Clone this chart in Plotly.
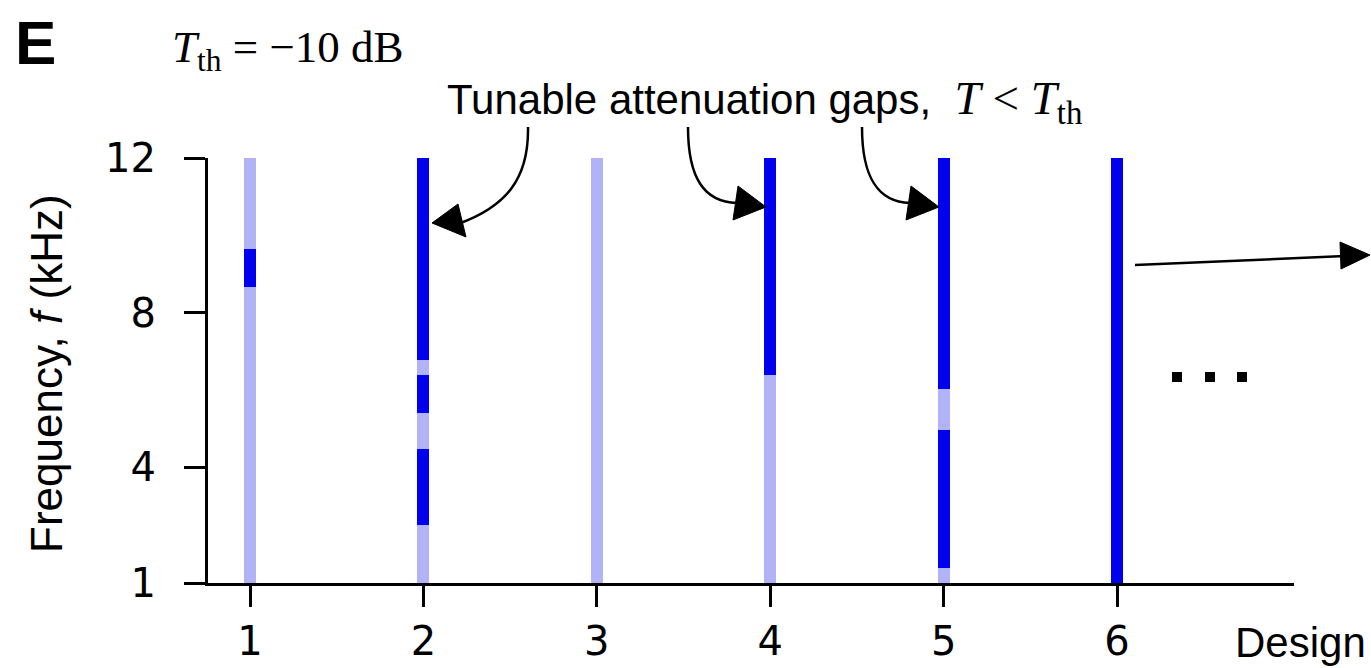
import plotly.graph_objects as go

# ---------------- data ----------------
designs = [1, 2, 3, 4, 5, 6]
# frequency boundaries (kHz) of the segments along each design's bar
boundaries = {
    1: [1, 8.67, 9.65, 12],
    2: [1, 2.5, 4.47, 5.4, 6.39, 6.78, 12],
    3: [1, 12],
    4: [1, 6.39, 12],
    5: [1, 1.39, 4.96, 6.03, 12],
    6: [1, 12],
}
# 1 = attenuation gap (T < T_th), 0 = pass
gap_flags = {
    1: [0, 1, 0],
    2: [0, 1, 0, 1, 0, 1],
    3: [0],
    4: [0, 1],
    5: [0, 1, 0, 1],
    6: [1],
}
x_ticks = [1, 2, 3, 4, 5, 6]
y_ticks = [1, 4, 8, 12]

LIGHT = "rgb(178,178,247)"
DARK = "rgb(0,0,238)"

# ---------------- layout geometry ----------------
W, H = 1371, 668
L, R, T, B = 208, 1294, 158, 583


def px(x, y):
    return (x - L) / (R - L), (B - y) / (B - T)


fig = go.Figure()
for flag, color in [(0, LIGHT), (1, DARK)]:
    xs, bases, lens = [], [], []
    for d in designs:
        bnd = boundaries[d]
        for i, f in enumerate(gap_flags[d]):
            if f == flag:
                xs.append(d)
                bases.append(bnd[i])
                lens.append(bnd[i + 1] - bnd[i])
    fig.add_trace(go.Bar(x=xs, y=lens, base=bases, width=0.07,
                         marker=dict(color=color, line=dict(width=0)),
                         showlegend=False, hoverinfo="skip"))

unit = 173.4
x0 = 1 - (250 - L) / unit
x1 = x0 + (R - L) / unit

axis_common = dict(showline=True, linecolor="black", linewidth=3, ticks="outside",
                   ticklen=21, tickwidth=3, tickcolor="black", showgrid=False,
                   zeroline=False, automargin=False,
                   tickfont=dict(family="DejaVu Sans", size=40, color="black"))
fig.update_layout(
    width=W, height=H, autosize=False,
    margin=dict(l=L, r=W - R, t=T, b=H - B, pad=0),
    plot_bgcolor="white", paper_bgcolor="white",
    barmode="overlay", bargap=0,
    xaxis=dict(range=[x0, x1], tickvals=x_ticks, ticktext=[str(v) for v in x_ticks],
               **axis_common),
    yaxis=dict(range=[1, 12], tickvals=y_ticks, ticktext=[str(v) for v in y_ticks],
               ticklabelstandoff=20, **axis_common),
)

anns = []
# panel letter
ax, ay = px(13, 42)
anns.append(dict(x=ax, y=ay, xref="paper", yref="paper", text="<b>E</b>", showarrow=False,
                 xanchor="left", yanchor="middle",
                 font=dict(family="Liberation Sans, Arial", size=62, color="black")))
# threshold
ax, ay = px(170, 50)
anns.append(dict(x=ax, y=ay, xref="paper", yref="paper",
                 text="<i>T</i><sub>th</sub> = −10 dB", showarrow=False,
                 xanchor="left", yanchor="middle",
                 font=dict(family="Liberation Serif, Times New Roman", size=45, color="black")))
# tunable gaps label
ax, ay = px(445, 101)
serif = "font-family:'Liberation Serif';font-size:47px"
anns.append(dict(x=ax, y=ay, xref="paper", yref="paper",
                 text=("Tunable attenuation gaps,  "
                       f"<span style=\"{serif}\"><i>T</i> &lt; <i>T</i><sub>th</sub></span>"),
                 showarrow=False, xanchor="left", yanchor="middle",
                 font=dict(family="Liberation Sans, Arial", size=42, color="black")))
# y axis title
ax, ay = px(46, 374)
anns.append(dict(x=ax, y=ay, xref="paper", yref="paper",
                 text="Frequency, <i>f</i> (kHz)", showarrow=False, textangle=-90,
                 xanchor="center", yanchor="middle",
                 font=dict(family="Liberation Sans, Arial", size=44, color="black")))
# x axis title
ax, ay = px(1368, 642)
anns.append(dict(x=ax, y=ay, xref="paper", yref="paper", text="Design", showarrow=False,
                 xanchor="right", yanchor="middle",
                 font=dict(family="Liberation Sans, Arial", size=42, color="black")))
fig.update_layout(annotations=anns)


def pt(p):
    a, b = px(*p)
    return f"{a:.5f},{b:.5f}"


shapes = []
curves = [
    f"M {pt((528,127))} C {pt((529,180))} {pt((505,207))} {pt((458,224))}",
    f"M {pt((688,127))} C {pt((688,178))} {pt((704,202))} {pt((737,203))}",
    f"M {pt((862,127))} C {pt((862,178))} {pt((878,202))} {pt((910,203))}",
    f"M {pt((1135,265))} L {pt((1345,256))}",
]
for c in curves:
    shapes.append(dict(type="path", xref="paper", yref="paper", path=c,
                       line=dict(color="black", width=2.5)))
heads = [
    [(432, 223), (458, 204), (466, 237)],
    [(766, 207), (738, 186), (733, 220)],
    [(939, 207), (911, 186), (906, 220)],
    [(1370, 255), (1340, 242), (1341, 269)],
]
for h in heads:
    shapes.append(dict(type="path", xref="paper", yref="paper",
                       path=f"M {pt(h[0])} L {pt(h[1])} L {pt(h[2])} Z",
                       fillcolor="black", line=dict(color="black", width=1)))
for cx in [1177, 1210, 1242]:
    a = px(cx - 5, 372)
    b = px(cx + 5, 382)
    shapes.append(dict(type="rect", xref="paper", yref="paper", x0=a[0], y0=a[1], x1=b[0], y1=b[1],
                       fillcolor="black", line=dict(width=0)))
fig.update_layout(shapes=shapes)

fig.write_html("out.html")
